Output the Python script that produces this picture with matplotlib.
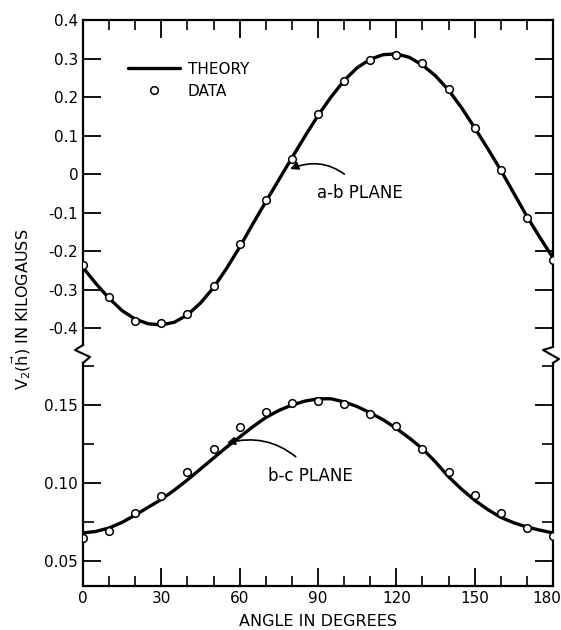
import numpy as np
import matplotlib
matplotlib.use('Agg')
import matplotlib.pyplot as plt
from matplotlib.lines import Line2D
from matplotlib.ticker import MultipleLocator
from matplotlib.transforms import ScaledTranslation

plt.rcParams['font.family'] = ['DejaVu Sans']
plt.rcParams['mathtext.default'] = 'regular'

# angles of the measured points (degrees)
angle_data = np.arange(0, 181, 10)
# a-b plane, measured
ab_data = [-0.236, -0.319, -0.382, -0.387, -0.364, -0.291, -0.182, -0.068, 0.039, 0.156,
           0.242, 0.296, 0.309, 0.288, 0.221, 0.119, 0.010, -0.114, -0.223]
# b-c plane, measured
bc_data = [0.0650, 0.0690, 0.0808, 0.0915, 0.1070, 0.1220, 0.1360, 0.1455, 0.1510, 0.1526,
           0.1506, 0.1440, 0.1365, 0.1220, 0.1070, 0.0923, 0.0810, 0.0710, 0.0660]

angle_theory = np.arange(0, 181, 5)
ab_theory = [-0.243, -0.285, -0.323, -0.355, -0.377, -0.389, -0.392, -0.385, -0.366, -0.335,
             -0.295, -0.245, -0.190, -0.130, -0.072, -0.015, 0.042, 0.098, 0.152, 0.200,
             0.243, 0.276, 0.298, 0.310, 0.312, 0.303, 0.283, 0.255, 0.218, 0.172,
             0.120, 0.066, 0.010, -0.050, -0.110, -0.165, -0.218]
bc_theory = [0.0680, 0.0690, 0.0712, 0.0748, 0.0795, 0.0845, 0.0895, 0.0955, 0.1020, 0.1090,
             0.1160, 0.1230, 0.1295, 0.1360, 0.1420, 0.1465, 0.1500, 0.1525, 0.1540, 0.1540,
             0.1520, 0.1490, 0.1450, 0.1405, 0.1350, 0.1288, 0.1220, 0.1135, 0.1040, 0.0960,
             0.0890, 0.0830, 0.0780, 0.0745, 0.0718, 0.0698, 0.0680]

ab_ticks = [0.4, 0.3, 0.2, 0.1, 0, -0.1, -0.2, -0.3, -0.4]
ab_ticklabels = ['0.4', '0.3', '0.2', '0.1', '0', '-0.1', '-0.2', '-0.3', '-0.4']
bc_ticks = [0.15, 0.10, 0.05]
bc_ticklabels = ['0.15', '0.10', '0.05']
x_ticks = [0, 30, 60, 90, 120, 150, 180]

W, H = 561, 630
fig = plt.figure(figsize=(W / 100, H / 100), dpi=100)

def fx(px):
    return px / W

def fy(py):
    return 1 - py / H

left, right, top, split, bottom = 83, 553, 20, 354, 586
ax1 = fig.add_axes([fx(left), fy(split), fx(right - left), (split - top) / H])
ax2 = fig.add_axes([fx(left), fy(bottom), fx(right - left), (bottom - split) / H])

fs = 11
lw_spine = 1.6
theory_kw = dict(color='black', lw=2.4, solid_capstyle='round', zorder=2)
data_kw = dict(ls='none', marker='o', ms=5.5, mfc='white', mec='black', mew=1.1, zorder=3)

ax1.plot(angle_theory, ab_theory, **theory_kw)
ax1.plot(angle_data, ab_data, **data_kw)
ax2.plot(angle_theory, bc_theory, **theory_kw)
ax2.plot(angle_data, bc_data, **data_kw)

ax1.set_xlim(0, 180)
ax2.set_xlim(0, 180)
ax1.set_ylim(-0.4675, 0.4)
ax2.set_ylim(0.034, 0.1827)

for ax in (ax1, ax2):
    for s in ax.spines.values():
        s.set_linewidth(lw_spine)
    ax.xaxis.set_major_locator(MultipleLocator(30))
    ax.xaxis.set_minor_locator(MultipleLocator(10))
    ax.tick_params(which='major', direction='in', length=13, width=1.3, labelsize=fs)
    ax.tick_params(which='minor', direction='in', length=7, width=1.2)

ax1.spines['bottom'].set_visible(False)
ax2.spines['top'].set_visible(False)
ax1.spines['left'].set_bounds(-0.444, 0.4)
ax1.spines['right'].set_bounds(-0.4465, 0.4)
ax2.spines['left'].set_bounds(0.034, 0.177)
ax2.spines['right'].set_bounds(0.034, 0.177)

ax1.set_yticks(ab_ticks)
ax1.set_yticklabels(ab_ticklabels)
ax1.tick_params(axis='x', which='both', top=True, bottom=False, labelbottom=False)
ax1.tick_params(axis='y', which='both', left=True, right=True)

ax2.set_yticks(bc_ticks)
ax2.set_yticklabels(bc_ticklabels)
ax2.yaxis.set_minor_locator(MultipleLocator(0.025))
ax2.tick_params(axis='y', which='minor', length=8)
ax2.tick_params(axis='x', which='both', top=False, bottom=True)
ax2.tick_params(axis='y', which='both', left=True, right=True)
ax2.set_xticks(x_ticks)
ax2.set_xlabel('ANGLE IN DEGREES', fontsize=fs + 0.5, labelpad=6)

# last x label sits a little inside the frame, as in the original
fig.canvas.draw()
last = ax2.get_xticklabels()[-1]
last.set_transform(last.get_transform() + ScaledTranslation(-6 / 100, 0, fig.dpi_scale_trans))

fig.text(fx(21), fy(309), r'V$_2$($\vec{\mathrm{h}}$) IN KILOGAUSS', rotation=90,
         ha='center', va='center', fontsize=fs + 0.5)

# axis break zigzags
zl_x = [83, 75, 90, 83]
zl_y = [345, 350, 357, 363]
zr_x = [553, 543, 559, 553]
zr_y = [347, 350, 359, 363]
fig.add_artist(Line2D([fx(v) for v in zl_x], [fy(v) for v in zl_y], color='black', lw=1.5))
fig.add_artist(Line2D([fx(v) for v in zr_x], [fy(v) for v in zr_y], color='black', lw=1.5))

# legend
handles = [Line2D([], [], **theory_kw), Line2D([], [], **data_kw)]
ax1.legend(handles, ['THEORY', 'DATA'], loc='upper left', bbox_to_anchor=(0.096, 0.875),
           frameon=False, fontsize=fs, handlelength=3.4, handletextpad=0.5,
           labelspacing=0.45, borderpad=0, borderaxespad=0)

# annotations
ax1.annotate('a-b PLANE', xy=(79.3, 0.013), xytext=(89.5, -0.05), fontsize=fs + 1,
             va='center', ha='left',
             arrowprops=dict(arrowstyle='-|>', color='black', lw=1.2,
                             connectionstyle='arc3,rad=0.35', shrinkA=8, shrinkB=0,
                             relpos=(0.45, 1.0)))
ax2.annotate('b-c PLANE', xy=(55.1, 0.1256), xytext=(71, 0.1045), fontsize=fs + 1,
             va='center', ha='left',
             arrowprops=dict(arrowstyle='-|>', color='black', lw=1.2,
                             connectionstyle='arc3,rad=0.3', shrinkA=8, shrinkB=0,
                             relpos=(0.45, 1.0)))

fig.savefig('out.png', dpi=100)
